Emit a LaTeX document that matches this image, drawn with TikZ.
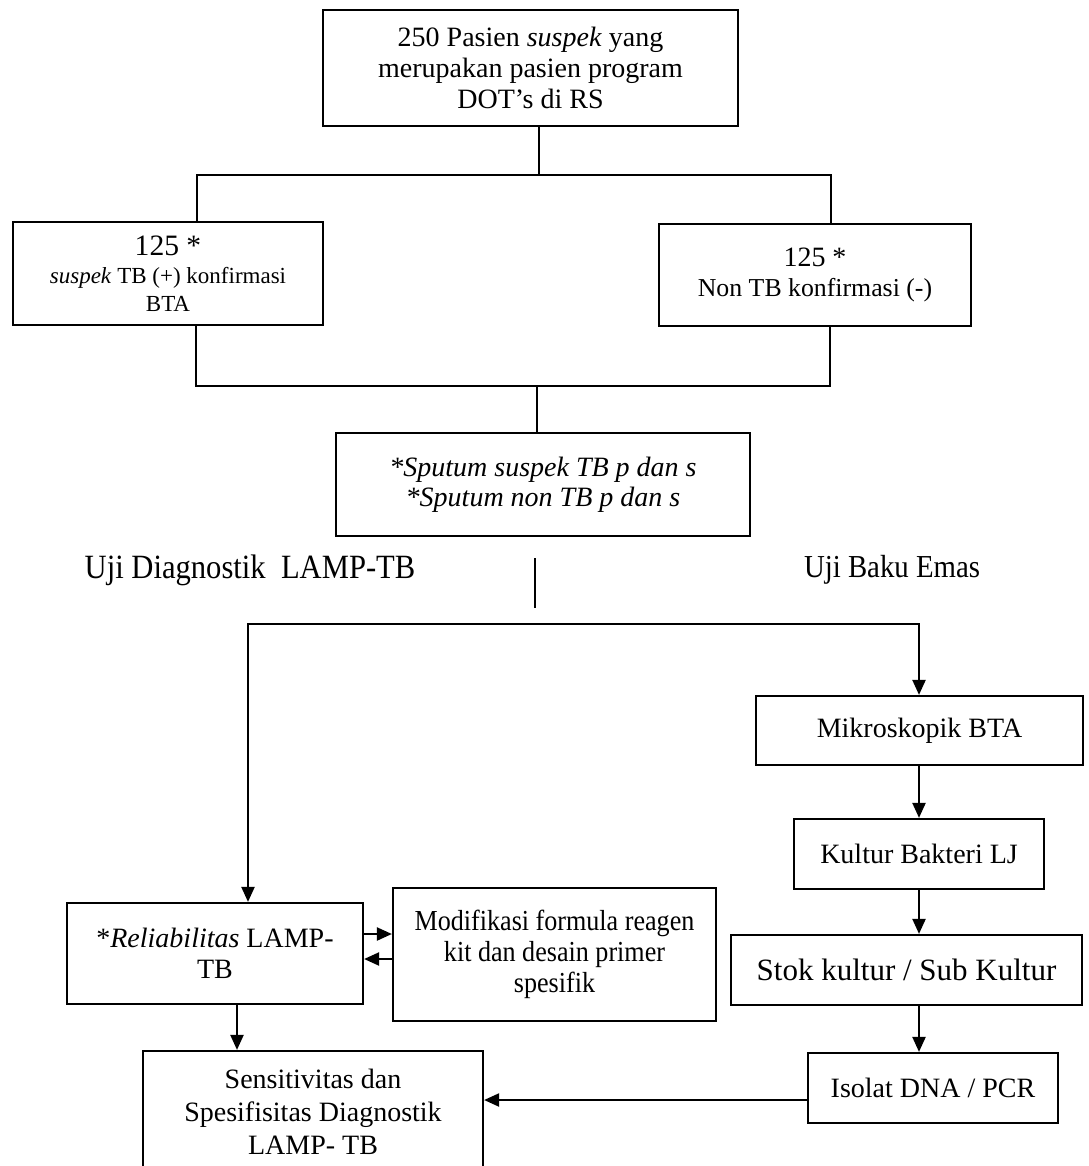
\documentclass[tikz,border=0pt]{standalone}
\usepackage{fontspec}
\setmainfont{Liberation Serif}
\newfontfamily\condfont[FakeStretch=0.9]{Liberation Serif}
\usetikzlibrary{arrows.meta}
\begin{document}
\begin{tikzpicture}[x=0.5pt,y=-0.5pt,
  box/.style={draw, line width=1.1pt, align=center, inner sep=0pt,
    font=\fontsize{14}{15.5}\selectfont},
  ln/.style={line width=1.1pt},
  tip/.style={Triangle[length=7.5pt,width=6.5pt]},
  arr/.style={line width=1.1pt, -{Triangle[length=7.5pt,width=6.5pt]}},
  lbl/.style={inner sep=0pt, font=\condfont\fontsize{17}{18}\selectfont}]
\useasboundingbox (0,0) rectangle (1088,1166);

% boxes
\node[box, minimum width=207.5pt, minimum height=58pt] (top) at (530.5,68)
  {250 Pasien \textit{suspek} yang\\merupakan pasien program\\DOT's di RS};
\node[box, minimum width=155pt, minimum height=51.5pt,
  font=\fontsize{11.5}{14}\selectfont] (left) at (168,273.5)
  {{\fontsize{14.8}{15}\selectfont 125 *}\\\textit{suspek} TB (+) konfirmasi\\BTA};
\node[box, minimum width=156pt, minimum height=51pt,
  font=\fontsize{12.9}{15}\selectfont] (right) at (815,275)
  {{\fontsize{14}{15}\selectfont 125 *}\\Non TB konfirmasi (-)};
\node[box, minimum width=207pt, minimum height=51.5pt,
  font=\itshape\fontsize{14}{15}\selectfont] (mid) at (543,484.5)
  {*Sputum suspek TB p dan s\\*Sputum non TB p dan s};

\node[lbl] (lblL) at (250,570) {Uji Diagnostik\ \ LAMP-TB};
\node[lbl, font=\condfont\fontsize{16}{17}\selectfont] (lblR) at (892,570) {Uji Baku Emas};

\node[box, minimum width=163.5pt, minimum height=34.5pt] (mik) at (919.5,730.5) {Mikroskopik BTA};
\node[box, minimum width=125pt, minimum height=35pt] (kul) at (919,854) {Kultur Bakteri LJ};
\node[box, minimum width=175.5pt, minimum height=35pt,
  font=\fontsize{15.5}{16}\selectfont] (stok) at (906.5,970) {Stok kultur / Sub Kultur};
\node[box, minimum width=125pt, minimum height=35pt] (iso) at (933,1088) {Isolat DNA / PCR};

\node[box, minimum width=148pt, minimum height=50.5pt] (rel) at (215,953.5)
  {*\textit{Reliabilitas} LAMP-\\TB};
\node[box, minimum width=161.5pt, minimum height=66.5pt,
  font=\condfont\fontsize{14.5}{15.5}\selectfont] (mod) at (554.5,954.5)
  {Modifikasi formula reagen\\kit dan desain primer\\spesifik};
\node[box, minimum width=170pt, minimum height=60.5pt,
  font=\fontsize{14}{16.5}\selectfont] (sens) at (313,1111.5)
  {Sensitivitas dan\\Spesifisitas Diagnostik\\LAMP- TB};

% junction coordinates
\coordinate (j1) at (539,175);
\coordinate (j1L) at (197,175);
\coordinate (j1R) at (831,175);
\coordinate (j2) at (537,386);
\coordinate (j2L) at (196,386);
\coordinate (j2R) at (830,386);
\coordinate (c1) at (535,558);
\coordinate (c2) at (535,608);
\coordinate (h1) at (248,624);
\coordinate (h2) at (919,624);
\coordinate (colx) at (919,0);
\coordinate (isoW) at ([yshift=-6pt]iso.west);
\coordinate (relE1) at ([yshift=9.75pt]rel.east);
\coordinate (modW2) at ([yshift=-2.25pt]mod.west);
\coordinate (relS) at ([xshift=11pt]rel.south);

% connectors
\draw[ln] (top.south -| j1) -- (j1);
\draw[ln] (left.north -| j1L) -- (j1L) -- (j1R) -- (right.north -| j1R);
\draw[ln] (left.south -| j2L) -- (j2L) -- (j2R) -- (right.south -| j2R);
\draw[ln] (j2) -- (mid.north -| j2);
\draw[ln] (c1) -- (c2);
\draw[ln, {Triangle[length=7.5pt,width=6.5pt]}-{Triangle[length=7.5pt,width=6.5pt]}]
  (rel.north -| h1) -- (h1) -- (h2) -- (mik.north -| h2);
\draw[arr] (mik.south -| colx) -- (kul.north -| colx);
\draw[arr] (kul.south -| colx) -- (stok.north -| colx);
\draw[arr] (stok.south -| colx) -- (iso.north -| colx);
\draw[arr] (isoW) -- (sens.east |- isoW);
\draw[arr] (relE1) -- (mod.west |- relE1);
\draw[arr] (modW2) -- (rel.east |- modW2);
\draw[arr] (relS) -- (sens.north -| relS);
\end{tikzpicture}
\end{document}
